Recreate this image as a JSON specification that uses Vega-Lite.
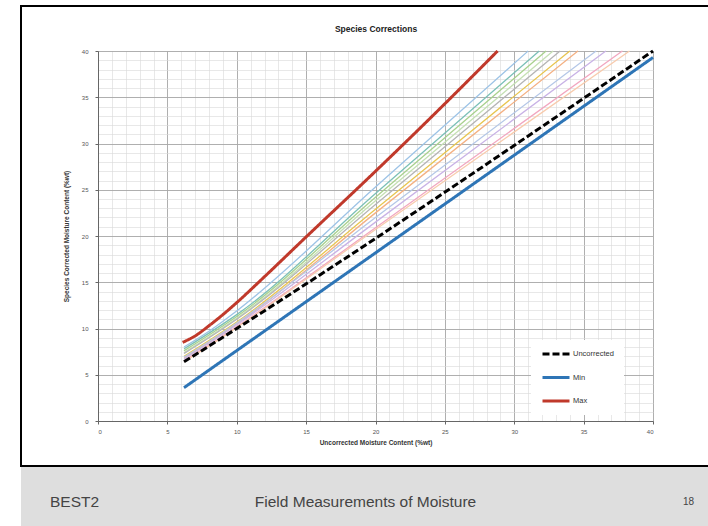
{
  "$schema": "https://vega.github.io/schema/vega-lite/v6.json",
  "padding": {"left": 20, "top": 5, "right": 0, "bottom": 0},
  "background": "white",
  "spacing": 0,
  "config": {"font": "Liberation Sans", "concat": {"spacing": 0}},
  "vconcat": [
    {
      "width": 688,
      "height": 460,
      "view": {"fill": "white", "stroke": "black", "strokeWidth": 2},
      "title": {"text": "Species Corrections", "anchor": "middle", "frame": "group", "offset": -27, "dx": 11, "fontSize": 8.5, "fontWeight": "bold", "color": "#222"},
      "resolve": {"axis": {"x": "independent", "y": "independent"}},
      "layer": [
        {
          "data": {"values": [
            {"series": "Species 1", "x": 6.2, "y": 8.0}, {"series": "Species 1", "x": 8, "y": 9.7}, {"series": "Species 1", "x": 10, "y": 11.9}, {"series": "Species 1", "x": 20, "y": 25.3}, {"series": "Species 1", "x": 31.0, "y": 40},
            {"series": "Species 2", "x": 6.2, "y": 7.8}, {"series": "Species 2", "x": 8, "y": 9.5}, {"series": "Species 2", "x": 10, "y": 11.5}, {"series": "Species 2", "x": 20, "y": 24.6}, {"series": "Species 2", "x": 31.8, "y": 40},
            {"series": "Species 3", "x": 6.2, "y": 7.6}, {"series": "Species 3", "x": 8, "y": 9.3}, {"series": "Species 3", "x": 10, "y": 11.3}, {"series": "Species 3", "x": 20, "y": 24.2}, {"series": "Species 3", "x": 32.3, "y": 40},
            {"series": "Species 4", "x": 6.2, "y": 7.4}, {"series": "Species 4", "x": 8, "y": 9.1}, {"series": "Species 4", "x": 10, "y": 11.1}, {"series": "Species 4", "x": 20, "y": 23.8}, {"series": "Species 4", "x": 32.8, "y": 40},
            {"series": "Species 5", "x": 6.2, "y": 7.3}, {"series": "Species 5", "x": 8, "y": 9.0}, {"series": "Species 5", "x": 10, "y": 11.0}, {"series": "Species 5", "x": 20, "y": 23.4}, {"series": "Species 5", "x": 33.3, "y": 40},
            {"series": "Species 6", "x": 6.2, "y": 7.0}, {"series": "Species 6", "x": 8, "y": 8.7}, {"series": "Species 6", "x": 10, "y": 10.7}, {"series": "Species 6", "x": 20, "y": 22.9}, {"series": "Species 6", "x": 34.0, "y": 40},
            {"series": "Species 7", "x": 6.2, "y": 6.8}, {"series": "Species 7", "x": 8, "y": 8.5}, {"series": "Species 7", "x": 10, "y": 10.5}, {"series": "Species 7", "x": 20, "y": 22.5}, {"series": "Species 7", "x": 34.6, "y": 40},
            {"series": "Species 8", "x": 6.2, "y": 6.9}, {"series": "Species 8", "x": 8, "y": 8.6}, {"series": "Species 8", "x": 10, "y": 10.6}, {"series": "Species 8", "x": 20, "y": 22.0}, {"series": "Species 8", "x": 35.9, "y": 40},
            {"series": "Species 9", "x": 6.2, "y": 6.7}, {"series": "Species 9", "x": 8, "y": 8.4}, {"series": "Species 9", "x": 10, "y": 10.4}, {"series": "Species 9", "x": 20, "y": 21.5}, {"series": "Species 9", "x": 36.6, "y": 40},
            {"series": "Species 10", "x": 6.2, "y": 6.5}, {"series": "Species 10", "x": 8, "y": 8.2}, {"series": "Species 10", "x": 10, "y": 10.2}, {"series": "Species 10", "x": 20, "y": 20.9}, {"series": "Species 10", "x": 37.8, "y": 40},
            {"series": "Species 11", "x": 6.2, "y": 6.4}, {"series": "Species 11", "x": 8, "y": 8.1}, {"series": "Species 11", "x": 10, "y": 10.1}, {"series": "Species 11", "x": 20, "y": 20.7}, {"series": "Species 11", "x": 38.3, "y": 40}
          ]},
          "mark": {"type": "line", "strokeWidth": 1.3, "interpolate": "monotone"},
          "encoding": {
            "x": {"field": "x", "type": "quantitative",
              "scale": {"domain": [0, 40], "range": [77, 632], "nice": false, "zero": false},
              "axis": {"orient": "bottom", "offset": -45, "values": [0,1,2,3,4,5,6,7,8,9,10,11,12,13,14,15,16,17,18,19,20,21,22,23,24,25,26,27,28,29,30,31,32,33,34,35,36,37,38,39,40], "grid": true, "gridColor": "#d8d8d8", "gridWidth": 0.6, "labels": false, "ticks": false, "domain": false, "title": null}},
            "y": {"field": "y", "type": "quantitative",
              "scale": {"domain": [0, 40], "range": [415, 45], "nice": false, "zero": false},
              "axis": {"orient": "left", "offset": -77, "values": [0,1,2,3,4,5,6,7,8,9,10,11,12,13,14,15,16,17,18,19,20,21,22,23,24,25,26,27,28,29,30,31,32,33,34,35,36,37,38,39,40], "grid": true, "gridColor": "#d8d8d8", "gridWidth": 0.6, "labels": false, "ticks": false, "domain": false, "title": null}},
            "stroke": {"field": "series", "type": "nominal", "legend": null,
              "scale": {"domain": ["Species 1","Species 2","Species 3","Species 4","Species 5","Species 6","Species 7","Species 8","Species 9","Species 10","Species 11"],
                        "range": ["#9dc3e6","#7cc0b8","#a9d18e","#c5e0b4","#b5b5b5","#e8c550","#f4b183","#b4c7e7","#c9b3e6","#f2a7c0","#f8cbad"]}}
          }
        },
        {
          "data": {"values": [
            {"line": "Uncorrected", "x": 6.2, "y": 6.4}, {"line": "Uncorrected", "x": 8, "y": 8.1}, {"line": "Uncorrected", "x": 10, "y": 10.0}, {"line": "Uncorrected", "x": 40, "y": 40},
            {"line": "Min", "x": 6.2, "y": 3.6}, {"line": "Min", "x": 40, "y": 39.3},
            {"line": "Max", "x": 6.1, "y": 8.5}, {"line": "Max", "x": 7, "y": 9.2}, {"line": "Max", "x": 8, "y": 10.3}, {"line": "Max", "x": 9, "y": 11.5}, {"line": "Max", "x": 10, "y": 12.8}, {"line": "Max", "x": 12, "y": 15.6}, {"line": "Max", "x": 15, "y": 19.9}, {"line": "Max", "x": 20, "y": 27.0}, {"line": "Max", "x": 25, "y": 34.3}, {"line": "Max", "x": 28.8, "y": 40}
          ]},
          "mark": {"type": "line", "strokeWidth": 3, "interpolate": "monotone"},
          "encoding": {
            "x": {"field": "x", "type": "quantitative",
              "axis": {"orient": "bottom", "offset": -45, "values": [0,5,10,15,20,25,30,35,40], "grid": true, "gridColor": "#a0a0a0", "gridWidth": 0.8, "domainColor": "#666", "domainWidth": 1, "tickColor": "#666", "tickSize": 3, "labelFontSize": 6, "labelColor": "#555", "labelPadding": 4, "title": "Uncorrected Moisture Content (%wt)", "titleFontSize": 6.5, "titleFontWeight": "bold", "titleColor": "#333", "titlePadding": 5}},
            "y": {"field": "y", "type": "quantitative",
              "axis": {"orient": "left", "offset": -77, "values": [0,5,10,15,20,25,30,35,40], "grid": true, "gridColor": "#a0a0a0", "gridWidth": 0.8, "domainColor": "#666", "domainWidth": 1, "tickColor": "#666", "tickSize": 3, "labelFontSize": 6, "labelColor": "#555", "labelPadding": 7, "title": "Species Corrected Moisture Content (%wt)", "titleFontSize": 6.5, "titleFontWeight": "bold", "titleColor": "#333", "titlePadding": 12}},
            "color": {"field": "line", "type": "nominal",
              "scale": {"domain": ["Uncorrected", "Min", "Max"], "range": ["#000000", "#2e75b6", "#c0392b"]},
              "legend": {"orient": "none", "legendX": 510, "legendY": 334, "title": null, "fillColor": "white", "padding": 10, "symbolType": "stroke", "symbolSize": 729, "symbolStrokeWidth": 3, "clipHeight": 8, "labelFontSize": 7.5, "labelColor": "#333", "rowPadding": 15.5, "labelOffset": 2}},
            "strokeDash": {"field": "line", "type": "nominal",
              "scale": {"domain": ["Uncorrected", "Min", "Max"], "range": [[7, 3], [1, 0], [1, 0]]},
              "legend": {"orient": "none", "legendX": 510, "legendY": 334, "title": null, "fillColor": "white", "padding": 10, "symbolType": "stroke", "symbolSize": 729, "symbolStrokeWidth": 3, "clipHeight": 8, "labelFontSize": 7.5, "labelColor": "#333", "rowPadding": 15.5, "labelOffset": 2}}
          }
        }
      ]
    },
    {
      "width": 688,
      "height": 61,
      "view": {"fill": "#dedede", "stroke": null},
      "data": {"values": [
        {"label": "BEST2", "pos": 53.5, "kind": "big"},
        {"label": "Field Measurements of Moisture", "pos": 344.5, "kind": "big"},
        {"label": "18", "pos": 667.5, "kind": "small"}
      ]},
      "layer": [
        {
          "transform": [{"filter": "datum.kind == 'big'"}],
          "mark": {"type": "text", "fontSize": 15.5, "color": "#444", "dy": 4},
          "encoding": {
            "x": {"field": "pos", "type": "quantitative", "scale": {"domain": [0, 688], "nice": false, "zero": false}, "axis": null},
            "text": {"field": "label"}
          }
        },
        {
          "transform": [{"filter": "datum.kind == 'small'"}],
          "mark": {"type": "text", "fontSize": 10, "color": "#444", "dy": 4},
          "encoding": {
            "x": {"field": "pos", "type": "quantitative", "axis": null},
            "text": {"field": "label"}
          }
        }
      ]
    }
  ]
}
